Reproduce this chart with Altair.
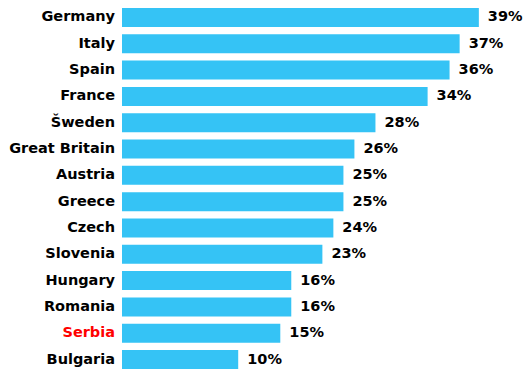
import altair as alt
import pandas as pd

countries = ["Germany", "Italy", "Spain", "France", "Šweden", "Great Britain", "Austria",
             "Greece", "Czech", "Slovenia", "Hungary", "Romania", "Serbia", "Bulgaria"]
# value printed next to each bar
label_pct = [39, 37, 36, 34, 28, 26, 25, 25, 24, 23, 16, 16, 15, 10]
# bar lengths as drawn in the picture (same percent units)
bar_len = [39.0, 36.9, 35.8, 33.4, 27.7, 25.4, 24.2, 24.2, 23.1, 21.9, 18.5, 18.5, 17.3, 12.7]

df = pd.DataFrame({
    "country": countries,
    "bar": bar_len,
    "label": [f"{v}%" for v in label_pct],
})

FONT = "DejaVu Sans"

y_enc = alt.Y(
    "country:N",
    sort=countries,
    title=None,
    scale=alt.Scale(paddingInner=0.28, paddingOuter=0),
    axis=alt.Axis(
        domain=False, ticks=False, tickSize=0, grid=False,
        labelFont=FONT, labelFontSize=14.5, labelFontWeight="bold",
        labelPadding=7.5, labelLimit=300,
        labelColor={"condition": {"test": "datum.value == 'Serbia'", "value": "#FF0000"},
                    "value": "#000000"},
    ),
)

x_enc = alt.X("bar:Q", title=None, scale=alt.Scale(domain=[0, 40], nice=False, zero=True), axis=None)

bars = alt.Chart(df).mark_bar(color="#35C3F5").encode(x=x_enc, y=y_enc)

texts = alt.Chart(df).mark_text(
    align="left", baseline="middle", dx=9, font=FONT, fontSize=14.5, fontWeight="bold", color="#000000"
).encode(x=x_enc, y=y_enc, text="label:N")

chart = (bars + texts).properties(width=366, height=361, padding=0).configure_view(stroke=None)

chart.save("out.html", embed_options={"renderer": "svg", "actions": False})
